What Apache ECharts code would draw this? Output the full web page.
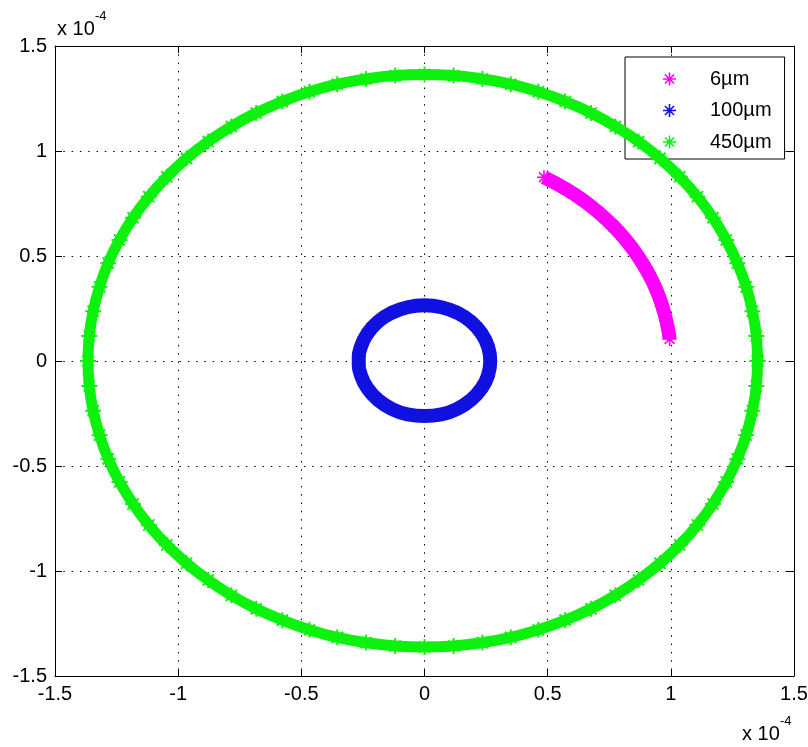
<!DOCTYPE html>
<html>
<head>
<meta charset="utf-8">
<script src="https://cdn.jsdelivr.net/npm/echarts@6/dist/echarts.min.js"></script>
<style>
  html, body { margin: 0; padding: 0; background: #ffffff; }
  #chart { width: 808px; height: 747px; }
</style>
</head>
<body>
<div id="chart"></div>
<script>
// Trajectories in units of 1e-4 (x, y), ordered along each path.
const seriesNames = ['6µm', '100µm', '450µm'];

const path6um = [
  [0.485, 0.875], [0.574, 0.819], [0.643, 0.766], [0.707, 0.707],
  [0.766, 0.643], [0.819, 0.574], [0.866, 0.500], [0.906, 0.423],
  [0.940, 0.342], [0.966, 0.259], [0.985, 0.174], [0.995, 0.105]
];

const path100um = [
  [0.267, 0.000], [0.258, 0.069], [0.231, 0.132], [0.189, 0.187],
  [0.134, 0.229], [0.069, 0.256], [0.000, 0.265], [-0.069, 0.256],
  [-0.134, 0.229], [-0.189, 0.187], [-0.231, 0.132], [-0.258, 0.069],
  [-0.267, 0.000], [-0.258, -0.068], [-0.231, -0.131], [-0.189, -0.185],
  [-0.134, -0.227], [-0.069, -0.254], [0.000, -0.262], [0.069, -0.254],
  [0.134, -0.227], [0.189, -0.185], [0.231, -0.131], [0.258, -0.068],
  [0.267, 0.000]
];

const path450um = [
  [1.352, 0.000], [1.347, 0.119], [1.331, 0.237], [1.306, 0.353],
  [1.270, 0.466], [1.225, 0.576], [1.171, 0.682], [1.108, 0.782],
  [1.036, 0.877], [0.956, 0.965], [0.869, 1.045], [0.775, 1.117],
  [0.676, 1.181], [0.571, 1.236], [0.462, 1.282], [0.350, 1.318],
  [0.235, 1.343], [0.118, 1.359], [0.000, 1.364], [-0.119, 1.359],
  [-0.237, 1.343], [-0.354, 1.318], [-0.467, 1.282], [-0.577, 1.236],
  [-0.683, 1.181], [-0.784, 1.117], [-0.878, 1.045], [-0.966, 0.965],
  [-1.046, 0.877], [-1.119, 0.782], [-1.183, 0.682], [-1.238, 0.576],
  [-1.284, 0.466], [-1.319, 0.353], [-1.345, 0.237], [-1.361, 0.119],
  [-1.366, 0.000], [-1.361, -0.119], [-1.345, -0.237], [-1.319, -0.353],
  [-1.284, -0.466], [-1.238, -0.576], [-1.183, -0.681], [-1.119, -0.781],
  [-1.046, -0.876], [-0.966, -0.963], [-0.878, -1.043], [-0.784, -1.116],
  [-0.683, -1.180], [-0.577, -1.234], [-0.467, -1.280], [-0.354, -1.316],
  [-0.237, -1.341], [-0.119, -1.357], [0.000, -1.362], [0.118, -1.357],
  [0.235, -1.341], [0.350, -1.316], [0.462, -1.280], [0.571, -1.234],
  [0.676, -1.180], [0.775, -1.116], [0.869, -1.043], [0.956, -0.963],
  [1.036, -0.876], [1.108, -0.781], [1.171, -0.681], [1.225, -0.576],
  [1.270, -0.466], [1.306, -0.353], [1.331, -0.237], [1.347, -0.119],
  [1.352, 0.000]
];

const axisMin = -1.5;
const axisMax = 1.5;
const axisStep = 0.5;
const exponentText = '-4';

// Filled asterisk marker (plus + cross)
const asterisk = 'path://M-1.2,-10L1.2,-10L1.2,10L-1.2,10Z' +
  'M-10,-1.2L10,-1.2L10,1.2L-10,1.2Z' +
  'M-6.15,-7.85L7.85,6.15L6.15,7.85L-7.85,-6.15Z' +
  'M-7.85,6.15L6.15,-7.85L7.85,-6.15L-6.15,7.85Z';

const colors = ['#ff00ff', '#1010e0', '#0df20d'];
const FONT = "'Liberation Sans', Arial, sans-serif";

const fmt = v => (Math.round(v * 10) / 10).toString();

const mainAxisCommon = {
  type: 'value',
  min: axisMin,
  max: axisMax,
  interval: axisStep,
  axisLine: { show: true, onZero: false, lineStyle: { color: '#000', width: 1 } },
  axisTick: { show: true, inside: true, length: 7, lineStyle: { color: '#000', width: 1 } },
  splitLine: { show: true, lineStyle: { color: '#000', width: 1, type: [1.5, 6.8] } },
  axisLabel: { color: '#000', fontSize: 20, fontFamily: FONT, formatter: fmt, margin: 8 }
};

const sideAxisCommon = {
  type: 'value',
  min: axisMin,
  max: axisMax,
  interval: axisStep,
  axisLine: { show: true, onZero: false, lineStyle: { color: '#000', width: 1 } },
  axisTick: { show: true, inside: true, length: 7, lineStyle: { color: '#000', width: 1 } },
  splitLine: { show: false },
  axisLabel: { show: false }
};

const chart = echarts.init(document.getElementById('chart'), null, { renderer: 'canvas' });

chart.setOption({
  animation: false,
  backgroundColor: '#ffffff',
  grid: { left: 55, right: 14, top: 46, bottom: 71, containLabel: false, outerBoundsMode: 'none' },
  xAxis: [
    Object.assign({}, mainAxisCommon, { position: 'bottom' }),
    Object.assign({}, sideAxisCommon, { position: 'top' })
  ],
  yAxis: [
    Object.assign({}, mainAxisCommon, { position: 'left' }),
    Object.assign({}, sideAxisCommon, { position: 'right' })
  ],
  legend: {
    orient: 'vertical',
    left: 625,
    top: 57,
    padding: [12, 13, 7, 38],
    itemWidth: 13,
    itemHeight: 13,
    itemGap: 11.5,
    backgroundColor: '#ffffff',
    borderColor: '#000',
    borderWidth: 1,
    borderRadius: 0,
    textStyle: { color: '#000', fontSize: 20, fontFamily: FONT, padding: [0, 0, 0, 29] },
    data: seriesNames.map(n => ({ name: n, icon: asterisk }))
  },
  series: [
    {
      name: seriesNames[0],
      type: 'line',
      data: path6um,
      smooth: true,
      z: 3,
      color: colors[0],
      lineStyle: { width: 14, color: colors[0], cap: 'butt' },
      showSymbol: true,
      symbol: asterisk,
      symbolSize: 14,
      itemStyle: { color: colors[0] }
    },
    {
      name: seriesNames[1],
      type: 'line',
      data: path100um,
      smooth: true,
      z: 3,
      color: colors[1],
      lineStyle: { width: 14, color: colors[1] },
      showSymbol: false,
      symbol: asterisk,
      itemStyle: { color: colors[1] }
    },
    {
      name: seriesNames[2],
      type: 'line',
      data: path450um,
      smooth: true,
      z: 4,
      color: colors[2],
      lineStyle: { width: 11, color: colors[2] },
      showSymbol: true,
      symbol: asterisk,
      symbolSize: 16,
      itemStyle: { color: colors[2] }
    }
  ],
  graphic: [
    { type: 'text', left: 57, top: 19, style: { text: 'x 10', fill: '#000', font: '20px ' + FONT } },
    { type: 'text', left: 95, top: 10, style: { text: exponentText, fill: '#000', font: '13px ' + FONT } },
    { type: 'text', left: 742, top: 724, style: { text: 'x 10', fill: '#000', font: '20px ' + FONT } },
    { type: 'text', left: 780, top: 715, style: { text: exponentText, fill: '#000', font: '13px ' + FONT } }
  ]
});
</script>
</body>
</html>
